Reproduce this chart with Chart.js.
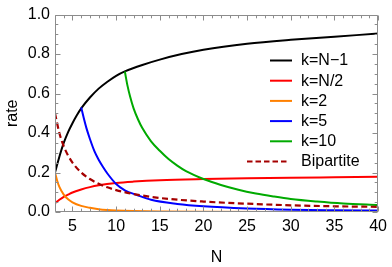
<!DOCTYPE html>
<html><head><meta charset="utf-8">
<script src="https://cdn.jsdelivr.net/npm/chart.js@4/dist/chart.umd.min.js"></script>
<style>html,body{margin:0;padding:0;background:#fff}</style>
</head><body>
<canvas id="c" width="392" height="267"></canvas>
<script>
// ---- data ----
const xTicks = [5,10,15,20,25,30,35,40];
const yTicks = [0,0.2,0.4,0.6,0.8,1.0];
const labels = ['k=N\u22121','k=N/2','k=2','k=5','k=10','Bipartite'];

const nBlack = [3,3.5,4,4.5,5,5.5,6,7,8,9,10,11,13,15,17.5,20,25,30,35,40];
const vBlack = [0.2,0.28,0.35,0.405,0.45,0.49,0.525,0.58,0.625,0.66,0.69,0.712,0.745,0.772,0.80,0.822,0.852,0.872,0.888,0.904];

const nRed = [3,3.5,4,4.5,5,6,7,8,10,12,15,20,25,30,35,40];
const vRed = [0.045,0.062,0.077,0.088,0.099,0.114,0.126,0.135,0.147,0.154,0.161,0.167,0.171,0.174,0.176,0.178];

const nOrange = [3,3.25,3.5,4,4.5,5,6,7,8,9,10,12,15,20,30,40];
const vOrange = [0.2,0.158,0.127,0.088,0.064,0.049,0.031,0.021,0.014,0.01,0.0075,0.0045,0.0025,0.0012,0.0004,0.0002];

const nBlue = [6,6.3,6.6,7,7.5,8,8.5,9,10,11,12.4,14,17,20,25,30,35,40];
const vBlue = [0.53,0.475,0.425,0.37,0.31,0.265,0.228,0.195,0.142,0.11,0.086,0.062,0.041,0.029,0.018,0.012,0.009,0.007];

const nGreen = [11,11.3,11.6,12,12.5,13,14,15,16,17,18,20,22,24,26,28,30,33,36,40];
const vGreen = [0.712,0.64,0.585,0.525,0.47,0.425,0.358,0.31,0.268,0.235,0.207,0.167,0.137,0.113,0.094,0.079,0.066,0.053,0.043,0.035];

const nBip = [3,3.5,4,4.5,5,6,7,8,9,10,12,15,20,25,30,35,40];
const vBip = [0.5,0.4,0.333,0.286,0.25,0.2,0.167,0.143,0.125,0.111,0.091,0.071,0.053,0.042,0.034,0.029,0.026];

const colors = ['#000000','#ff0000','#ff8000','#0000ff','#00aa00','#a50000'];
// --------------------------------------

const F = "'Liberation Sans', Arial, sans-serif";
const pts = (ns, vs) => ns.map((n, i) => ({x: n, y: vs[i]}));
const seriesN = [nBlack, nRed, nOrange, nBlue, nGreen, nBip];
const seriesV = [vBlack, vRed, vOrange, vBlue, vGreen, vBip];

const datasets = labels.map((lab, i) => ({
  label: lab,
  data: pts(seriesN[i], seriesV[i]),
  borderColor: colors[i],
  borderWidth: i === 5 ? 2.2 : 2,
  borderDash: i === 5 ? [6, 3.5] : [],
  pointRadius: 0,
  fill: false,
  cubicInterpolationMode: 'monotone',
  order: 6 - i
}));

const framePlugin = {
  id: 'frame',
  afterDraw(chart) {
    const ctx = chart.ctx, a = chart.chartArea;
    const xs = chart.scales.x, ys = chart.scales.y;
    ctx.save();
    ctx.strokeStyle = '#8c8c8c';
    ctx.lineWidth = 1;
    ctx.beginPath();
    const L = Math.round(a.left) + 0.5, R = Math.round(a.right) - 0.5;
    const T = Math.round(a.top) + 0.5, B = Math.round(a.bottom) - 0.5;
    ctx.rect(L, T, R - L, B - T);
    for (let n = 3; n <= 40; n++) {
      const px = Math.round(xs.getPixelForValue(n)) + 0.5;
      const len = n % 5 === 0 ? 5 : 2.8;
      ctx.moveTo(px, B); ctx.lineTo(px, B - len);
      ctx.moveTo(px, T); ctx.lineTo(px, T + len);
    }
    for (let k = 0; k <= 20; k++) {
      const v = k * 0.05;
      const py = Math.round(ys.getPixelForValue(v)) + 0.5;
      const len = k % 4 === 0 ? 5 : 2.8;
      ctx.moveTo(L, py); ctx.lineTo(L + len, py);
      ctx.moveTo(R, py); ctx.lineTo(R - len, py);
    }
    ctx.stroke();

    // legend
    ctx.font = '16px ' + F;
    ctx.textBaseline = 'middle';
    ctx.textAlign = 'left';
    labels.forEach((lab, i) => {
      const y = 60.5 + i * 20.2;
      ctx.beginPath();
      ctx.strokeStyle = colors[i];
      ctx.lineWidth = i === 5 ? 2.2 : 2;
      if (i === 5) {
        ctx.setLineDash([5.5, 3]);
        ctx.moveTo(247, y); ctx.lineTo(289, y);
      } else {
        ctx.setLineDash([]);
        ctx.moveTo(270, y); ctx.lineTo(292, y);
      }
      ctx.stroke();
      ctx.setLineDash([]);
      ctx.fillStyle = '#000';
      ctx.fillText(lab, 301, y + 0.5);
    });
    ctx.restore();
  }
};

new Chart(document.getElementById('c'), {
  type: 'line',
  data: {datasets},
  plugins: [framePlugin],
  options: {
    responsive: false,
    animation: false,
    layout: {padding: {top: 11, right: 10, left: 0, bottom: 0}},
    plugins: {legend: {display: false}, tooltip: {enabled: false}},
    scales: {
      x: {
        type: 'linear', min: 3, max: 40,
        grid: {display: false, drawTicks: false},
        border: {display: false},
        afterBuildTicks: s => { s.ticks = xTicks.map(v => ({value: v})); },
        afterFit: s => { s.height = 55; },
        ticks: {autoSkip: false, maxRotation: 0, padding: 5, color: '#000', font: {size: 16, family: F}},
        title: {display: true, text: 'N', color: '#000', font: {size: 16, family: F}, padding: {top: 0, bottom: 0}}
      },
      y: {
        type: 'linear', min: 0, max: 1,
        grid: {display: false, drawTicks: false},
        border: {display: false},
        afterBuildTicks: s => { s.ticks = yTicks.map(v => ({value: v})); },
        afterFit: s => { s.width = 55; },
        ticks: {padding: 5, color: '#000', font: {size: 16, family: F}, callback: v => Number(v).toFixed(1)},
        title: {display: true, text: 'rate', color: '#000', font: {size: 16, family: F}, padding: {top: 2.5, bottom: 0}}
      }
    }
  }
});
</script>
</body></html>
